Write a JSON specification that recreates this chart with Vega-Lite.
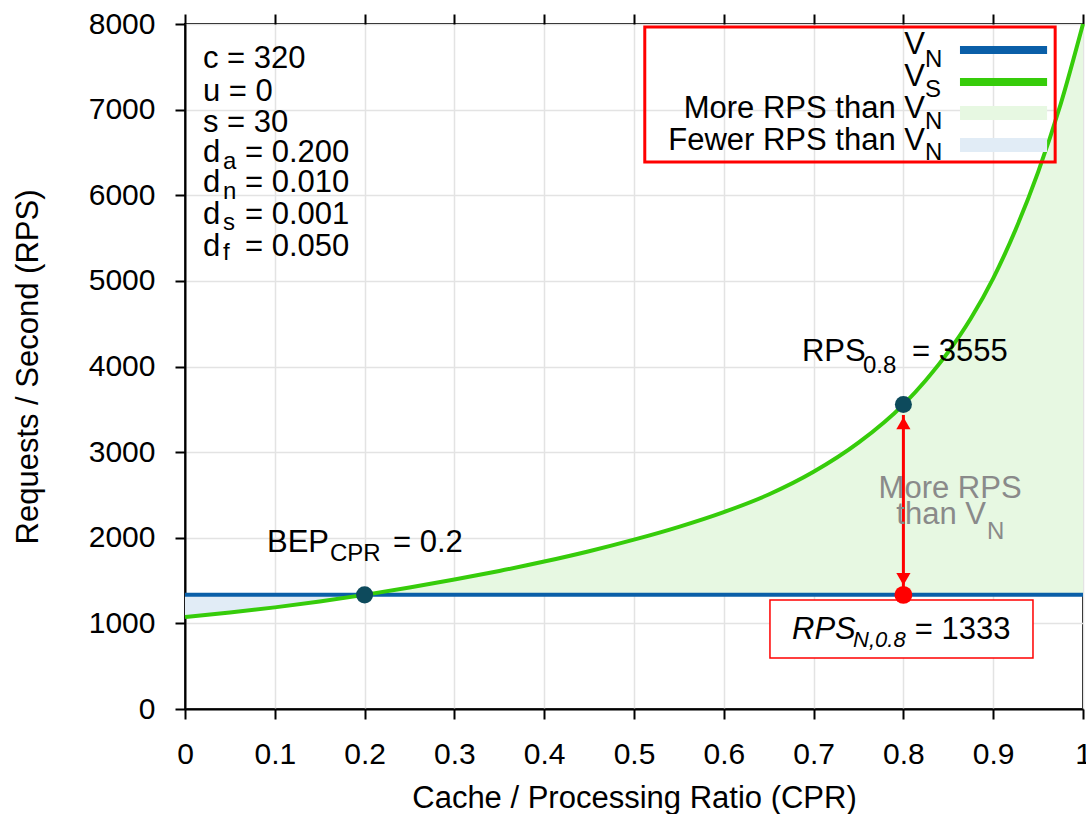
{
  "$schema": "https://vega.github.io/schema/vega-lite/v6.json",
  "width": 898,
  "height": 685,
  "autosize": {"type": "none"},
  "padding": {"left": 185, "top": 24, "right": 3, "bottom": 105},
  "background": "white",
  "config": {
    "font": "Liberation Sans",
    "view": {"stroke": "black", "strokeWidth": 2},
    "axis": {
      "domainColor": "black", "domainWidth": 2,
      "tickColor": "black", "tickWidth": 2, "tickSize": 10,
      "gridColor": "#e3e3e3", "gridWidth": 1.5,
      "labelFont": "Liberation Sans", "labelFontSize": 30, "labelColor": "black",
      "titleFont": "Liberation Sans", "titleFontSize": 31, "titleFontWeight": "normal", "titleColor": "black"
    }
  },
  "datasets": {
    "curve": [
      {"cpr": 0.0, "vs": 1075, "vn": 1333},
      {"cpr": 0.05, "vs": 1128, "vn": 1333},
      {"cpr": 0.1, "vs": 1187, "vn": 1333},
      {"cpr": 0.15, "vs": 1255, "vn": 1333},
      {"cpr": 0.2, "vs": 1333, "vn": 1333},
      {"cpr": 0.25, "vs": 1420, "vn": 1333},
      {"cpr": 0.3, "vs": 1512, "vn": 1333},
      {"cpr": 0.35, "vs": 1612, "vn": 1333},
      {"cpr": 0.4, "vs": 1722, "vn": 1333},
      {"cpr": 0.45, "vs": 1843, "vn": 1333},
      {"cpr": 0.5, "vs": 1978, "vn": 1333},
      {"cpr": 0.55, "vs": 2128, "vn": 1333},
      {"cpr": 0.6, "vs": 2300, "vn": 1333},
      {"cpr": 0.65, "vs": 2505, "vn": 1333},
      {"cpr": 0.7, "vs": 2770, "vn": 1333},
      {"cpr": 0.75, "vs": 3110, "vn": 1333},
      {"cpr": 0.8, "vs": 3555, "vn": 1333},
      {"cpr": 0.825, "vs": 3840, "vn": 1333},
      {"cpr": 0.85, "vs": 4170, "vn": 1333},
      {"cpr": 0.875, "vs": 4560, "vn": 1333},
      {"cpr": 0.9, "vs": 5030, "vn": 1333},
      {"cpr": 0.925, "vs": 5600, "vn": 1333},
      {"cpr": 0.95, "vs": 6270, "vn": 1333},
      {"cpr": 0.975, "vs": 7060, "vn": 1333},
      {"cpr": 1.0, "vs": 8000, "vn": 1333}
    ],
    "dots": [
      {"cpr": 0.2, "rps": 1333, "kind": "BEP"},
      {"cpr": 0.8, "rps": 3555, "kind": "RPS0.8"}
    ],
    "reddot": [{"cpr": 0.8, "rps": 1333}],
    "arrow": [{"cpr": 0.8, "lo": 1425, "hi": 3434}],
    "heads": [
      {"cpr": 0.8, "rps": 3340, "end": "top"},
      {"cpr": 0.8, "rps": 1518, "end": "bottom"}
    ],
    "labelbox": [{"x1": 0.6514, "x2": 0.9443, "y1": 596, "y2": 1273}],
    "legendbox": [{"x1": 0.512, "x2": 0.969, "y1": 6388, "y2": 7965}],
    "swatches": [
      {"series": "V_N", "x1": 0.863, "x2": 0.96, "rps": 7696, "kind": "line"},
      {"series": "V_S", "x1": 0.863, "x2": 0.96, "rps": 7323, "kind": "line"},
      {"series": "More RPS than V_N", "x1": 0.863, "x2": 0.96, "rps": 6961, "kind": "fill"},
      {"series": "Fewer RPS than V_N", "x1": 0.863, "x2": 0.96, "rps": 6587, "kind": "fill"}
    ],
    "texts": [
      {"g": "n", "cpr": 0.02, "rps": 7591, "t": "c = 320"},
      {"g": "n", "cpr": 0.02, "rps": 7206, "t": "u = 0"},
      {"g": "n", "cpr": 0.02, "rps": 6844, "t": "s = 30"},
      {"g": "n", "cpr": 0.02, "rps": 6494, "t": "d"},
      {"g": "n", "cpr": 0.02, "rps": 6143, "t": "d"},
      {"g": "n", "cpr": 0.02, "rps": 5769, "t": "d"},
      {"g": "n", "cpr": 0.02, "rps": 5396, "t": "d"},
      {"g": "s", "cpr": 0.0423, "rps": 6389, "t": "a"},
      {"g": "s", "cpr": 0.0423, "rps": 6038, "t": "n"},
      {"g": "s", "cpr": 0.0423, "rps": 5676, "t": "s"},
      {"g": "s", "cpr": 0.0423, "rps": 5326, "t": "f"},
      {"g": "n", "cpr": 0.0668, "rps": 6494, "t": "= 0.200"},
      {"g": "n", "cpr": 0.0668, "rps": 6143, "t": "= 0.010"},
      {"g": "n", "cpr": 0.0668, "rps": 5769, "t": "= 0.001"},
      {"g": "n", "cpr": 0.0668, "rps": 5396, "t": "= 0.050"},
      {"g": "n", "cpr": 0.0913, "rps": 1939, "t": "BEP"},
      {"g": "s", "cpr": 0.1615, "rps": 1810, "t": "CPR"},
      {"g": "n", "cpr": 0.2316, "rps": 1939, "t": "= 0.2"},
      {"g": "n", "cpr": 0.687, "rps": 4169, "t": "RPS"},
      {"g": "s", "cpr": 0.755, "rps": 4006, "t": "0.8"},
      {"g": "n", "cpr": 0.8096, "rps": 4169, "t": "= 3555"},
      {"g": "in", "cpr": 0.676, "rps": 923, "t": "RPS"},
      {"g": "is", "cpr": 0.744, "rps": 806, "t": "N,0.8"},
      {"g": "n", "cpr": 0.8127, "rps": 923, "t": "= 1333"},
      {"g": "lm", "cpr": 0.824, "rps": 7755, "t": "V"},
      {"g": "s", "cpr": 0.824, "rps": 7580, "t": "N"},
      {"g": "lm", "cpr": 0.824, "rps": 7381, "t": "V"},
      {"g": "s", "cpr": 0.824, "rps": 7229, "t": "S"},
      {"g": "lm", "cpr": 0.824, "rps": 7007, "t": "More RPS than V"},
      {"g": "s", "cpr": 0.824, "rps": 6855, "t": "N"},
      {"g": "lm", "cpr": 0.824, "rps": 6634, "t": "Fewer RPS than V"},
      {"g": "s", "cpr": 0.824, "rps": 6494, "t": "N"},
      {"g": "gc", "cpr": 0.852, "rps": 2569, "t": "More RPS"},
      {"g": "gc", "cpr": 0.842, "rps": 2266, "t": "than V"},
      {"g": "gs", "cpr": 0.893, "rps": 2067, "t": "N"}
    ]
  },
  "resolve": {"axis": {"x": "independent"}},
  "layer": [
    {
      "layer": [
        {
          "data": {"name": "curve"},
          "transform": [{"filter": "datum.cpr <= 0.2"}],
          "mark": {"type": "area", "color": "#e1ecf6", "opacity": 1},
          "encoding": {
            "x": {
              "field": "cpr", "type": "quantitative",
              "scale": {"domain": [0, 1], "nice": false, "zero": false},
              "axis": {"values": [0, 0.1, 0.2, 0.3, 0.4, 0.5, 0.6, 0.7, 0.8, 0.9, 1], "format": "~g", "labelPadding": 20, "titlePadding": 14, "labelFlush": false, "labelOverlap": false, "title": "Cache / Processing Ratio (CPR)"}
            },
            "y": {
              "field": "vs", "type": "quantitative",
              "scale": {"domain": [0, 8000], "nice": false},
              "axis": {"values": [0, 1000, 2000, 3000, 4000, 5000, 6000, 7000, 8000], "format": "d", "labelPadding": 20, "titlePadding": 44, "labelFlush": false, "labelOverlap": false, "title": "Requests / Second (RPS)"}
            },
            "y2": {"field": "vn"}
          }
        },
        {
          "data": {"name": "curve"},
          "transform": [{"filter": "datum.cpr >= 0.2"}],
          "mark": {"type": "area", "color": "#e7f8e2", "opacity": 1},
          "encoding": {
            "x": {"field": "cpr", "type": "quantitative"},
            "y": {"field": "vs", "type": "quantitative"},
            "y2": {"field": "vn"}
          }
        },
        {
          "data": {"name": "curve"},
          "mark": {"type": "line", "color": "#0a5fa8", "strokeWidth": 4},
          "encoding": {
            "x": {"field": "cpr", "type": "quantitative"},
            "y": {"field": "vn", "type": "quantitative"}
          }
        },
        {
          "data": {"name": "curve"},
          "mark": {"type": "line", "color": "#36cc0a", "strokeWidth": 4, "interpolate": "monotone"},
          "encoding": {
            "x": {"field": "cpr", "type": "quantitative"},
            "y": {"field": "vs", "type": "quantitative"}
          }
        },
        {
          "data": {"name": "labelbox"},
          "mark": {"type": "rect", "fill": "white", "stroke": "#ff0000", "strokeWidth": 1.5},
          "encoding": {
            "x": {"field": "x1", "type": "quantitative"},
            "x2": {"field": "x2"},
            "y": {"field": "y1", "type": "quantitative"},
            "y2": {"field": "y2"}
          }
        },
        {
          "data": {"name": "arrow"},
          "mark": {"type": "rule", "color": "#ff0000", "strokeWidth": 3},
          "encoding": {
            "x": {"field": "cpr", "type": "quantitative"},
            "y": {"field": "lo", "type": "quantitative"},
            "y2": {"field": "hi"}
          }
        },
        {
          "data": {"name": "heads"},
          "mark": {"type": "point", "filled": true, "color": "#ff0000", "opacity": 1, "size": 200},
          "encoding": {
            "x": {"field": "cpr", "type": "quantitative"},
            "y": {"field": "rps", "type": "quantitative"},
            "shape": {"field": "end", "type": "nominal", "scale": {"domain": ["top", "bottom"], "range": ["triangle-up", "triangle-down"]}, "legend": null}
          }
        },
        {
          "data": {"name": "dots"},
          "mark": {"type": "point", "filled": true, "color": "#0d4a5c", "opacity": 1, "size": 290, "shape": "circle"},
          "encoding": {
            "x": {"field": "cpr", "type": "quantitative"},
            "y": {"field": "rps", "type": "quantitative"}
          }
        },
        {
          "data": {"name": "reddot"},
          "mark": {"type": "point", "filled": true, "color": "#ff0000", "opacity": 1, "size": 320, "shape": "circle"},
          "encoding": {
            "x": {"field": "cpr", "type": "quantitative"},
            "y": {"field": "rps", "type": "quantitative"}
          }
        },
        {
          "data": {"name": "legendbox"},
          "mark": {"type": "rect", "fill": null, "fillOpacity": 0, "stroke": "#ff0000", "strokeWidth": 3},
          "encoding": {
            "x": {"field": "x1", "type": "quantitative"},
            "x2": {"field": "x2"},
            "y": {"field": "y1", "type": "quantitative"},
            "y2": {"field": "y2"}
          }
        },
        {
          "data": {"name": "swatches"},
          "transform": [{"filter": "datum.kind == 'line'"}],
          "mark": {"type": "rule", "strokeWidth": 8},
          "encoding": {
            "x": {"field": "x1", "type": "quantitative"},
            "x2": {"field": "x2"},
            "y": {"field": "rps", "type": "quantitative"},
            "color": {"field": "series", "type": "nominal", "legend": null, "scale": {"domain": ["V_N", "V_S", "More RPS than V_N", "Fewer RPS than V_N"], "range": ["#0a5fa8", "#36cc0a", "#e7f8e2", "#e1ecf6"]}}
          }
        },
        {
          "data": {"name": "swatches"},
          "transform": [{"filter": "datum.kind == 'fill'"}],
          "mark": {"type": "rule", "strokeWidth": 14},
          "encoding": {
            "x": {"field": "x1", "type": "quantitative"},
            "x2": {"field": "x2"},
            "y": {"field": "rps", "type": "quantitative"},
            "color": {"field": "series", "type": "nominal", "legend": null}
          }
        },
        {
          "data": {"name": "texts"},
          "transform": [{"filter": "datum.g == 'n'"}],
          "mark": {"type": "text", "align": "left", "baseline": "middle", "fontSize": 31, "color": "black"},
          "encoding": {
            "x": {"field": "cpr", "type": "quantitative"},
            "y": {"field": "rps", "type": "quantitative"},
            "text": {"field": "t"}
          }
        },
        {
          "data": {"name": "texts"},
          "transform": [{"filter": "datum.g == 's'"}],
          "mark": {"type": "text", "align": "left", "baseline": "middle", "fontSize": 24, "color": "black"},
          "encoding": {
            "x": {"field": "cpr", "type": "quantitative"},
            "y": {"field": "rps", "type": "quantitative"},
            "text": {"field": "t"}
          }
        },
        {
          "data": {"name": "texts"},
          "transform": [{"filter": "datum.g == 'in'"}],
          "mark": {"type": "text", "align": "left", "baseline": "middle", "fontSize": 31, "fontStyle": "italic", "color": "black"},
          "encoding": {
            "x": {"field": "cpr", "type": "quantitative"},
            "y": {"field": "rps", "type": "quantitative"},
            "text": {"field": "t"}
          }
        },
        {
          "data": {"name": "texts"},
          "transform": [{"filter": "datum.g == 'is'"}],
          "mark": {"type": "text", "align": "left", "baseline": "middle", "fontSize": 22, "fontStyle": "italic", "color": "black"},
          "encoding": {
            "x": {"field": "cpr", "type": "quantitative"},
            "y": {"field": "rps", "type": "quantitative"},
            "text": {"field": "t"}
          }
        },
        {
          "data": {"name": "texts"},
          "transform": [{"filter": "datum.g == 'lm'"}],
          "mark": {"type": "text", "align": "right", "baseline": "middle", "fontSize": 31, "color": "black"},
          "encoding": {
            "x": {"field": "cpr", "type": "quantitative"},
            "y": {"field": "rps", "type": "quantitative"},
            "text": {"field": "t"}
          }
        },
        {
          "data": {"name": "texts"},
          "transform": [{"filter": "datum.g == 'gc'"}],
          "mark": {"type": "text", "align": "center", "baseline": "middle", "fontSize": 31, "color": "#8a8a8a"},
          "encoding": {
            "x": {"field": "cpr", "type": "quantitative"},
            "y": {"field": "rps", "type": "quantitative"},
            "text": {"field": "t"}
          }
        },
        {
          "data": {"name": "texts"},
          "transform": [{"filter": "datum.g == 'gs'"}],
          "mark": {"type": "text", "align": "left", "baseline": "middle", "fontSize": 24, "color": "#8a8a8a"},
          "encoding": {
            "x": {"field": "cpr", "type": "quantitative"},
            "y": {"field": "rps", "type": "quantitative"},
            "text": {"field": "t"}
          }
        }
      ]
    },
    {
      "data": {"name": "curve"},
      "mark": {"type": "point", "opacity": 0},
      "encoding": {
        "x": {
          "field": "cpr", "type": "quantitative",
          "scale": {"domain": [0, 1], "nice": false, "zero": false},
          "axis": {"orient": "top", "values": [0, 0.1, 0.2, 0.3, 0.4, 0.5, 0.6, 0.7, 0.8, 0.9, 1], "labels": false, "grid": false, "domain": false, "title": null}
        }
      }
    }
  ]
}
